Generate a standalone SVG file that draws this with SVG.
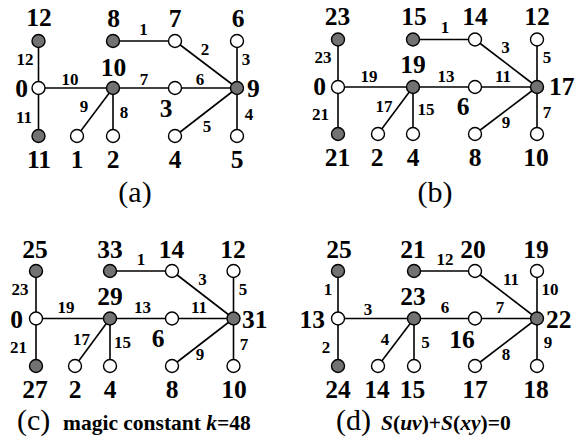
<svg xmlns="http://www.w3.org/2000/svg" width="586" height="447" viewBox="0 0 586 447">
<style>
.e line{stroke:#000;stroke-width:1.6}
.w{fill:#fff;stroke:#000;stroke-width:1.4}
.g{fill:#727272;stroke:#000;stroke-width:1.4}
text{font-family:"Liberation Serif","Times New Roman",serif;fill:#000}
.nl{font-size:25.5px;font-weight:bold;text-anchor:middle}
.el{font-size:17px;font-weight:bold;text-anchor:middle}
.cap{font-size:30px;text-anchor:middle}
.cs{font-size:21.5px;font-weight:bold}
.st{text-anchor:start}
.en{text-anchor:end}
</style>
<rect width="586" height="447" fill="#fff"/>

<!-- Panel (a) -->
<g id="a-connectors" class="e">
<line x1="38.5" y1="41" x2="38.5" y2="136"/>
<line x1="38.5" y1="88" x2="237" y2="88"/>
<line x1="113" y1="41" x2="175" y2="41"/>
<line x1="175" y1="41" x2="237" y2="88"/>
<line x1="237" y1="41" x2="237" y2="136"/>
<line x1="237" y1="88" x2="175" y2="136"/>
<line x1="113" y1="88" x2="113" y2="136"/>
<line x1="113" y1="88" x2="77" y2="136"/>
<text class="el" x="25" y="65">12</text>
<text class="el" x="24" y="123">11</text>
<text class="el" x="70" y="85">10</text>
<text class="el" x="144" y="85">7</text>
<text class="el" x="200" y="85">6</text>
<text class="el" x="143.5" y="35">1</text>
<text class="el" x="205" y="55">2</text>
<text class="el" x="246" y="65">3</text>
<text class="el" x="249" y="120">4</text>
<text class="el" x="207" y="132">5</text>
<text class="el" x="84" y="112">9</text>
<text class="el" x="124" y="118">8</text>
</g>
<g id="a-n12"><circle class="g" cx="38.5" cy="41" r="6.5"/><text class="nl" x="39" y="26">12</text></g>
<g id="a-n0"><circle class="w" cx="38.5" cy="88" r="6.5"/><text class="nl en" x="28" y="97">0</text></g>
<g id="a-n11"><circle class="g" cx="38.5" cy="136" r="6.5"/><text class="nl" x="39" y="168">11</text></g>
<g id="a-n10"><circle class="g" cx="113" cy="88" r="6.5"/><text class="nl" x="113.5" y="76">10</text></g>
<g id="a-n8"><circle class="g" cx="113" cy="41" r="6.5"/><text class="nl" x="113.5" y="27">8</text></g>
<g id="a-n7"><circle class="w" cx="175" cy="41" r="6.5"/><text class="nl" x="175" y="27">7</text></g>
<g id="a-n6"><circle class="w" cx="237" cy="41" r="6.5"/><text class="nl" x="238" y="27">6</text></g>
<g id="a-n9"><circle class="g" cx="237" cy="88" r="6.5"/><text class="nl st" x="247" y="97">9</text></g>
<g id="a-n3"><circle class="w" cx="175" cy="88" r="6.5"/><text class="nl" x="166" y="117">3</text></g>
<g id="a-n1"><circle class="w" cx="77" cy="136" r="6.5"/><text class="nl" x="77" y="168">1</text></g>
<g id="a-n2"><circle class="w" cx="113" cy="136" r="6.5"/><text class="nl" x="113" y="168">2</text></g>
<g id="a-n4"><circle class="w" cx="175" cy="136" r="6.5"/><text class="nl" x="175" y="168">4</text></g>
<g id="a-n5"><circle class="w" cx="237" cy="136" r="6.5"/><text class="nl" x="237" y="168">5</text></g>
<text class="cap" x="135" y="202">(a)</text>

<!-- Panel (b) -->
<g id="b-connectors" class="e">
<line x1="338" y1="39.5" x2="338" y2="134"/>
<line x1="338" y1="87" x2="537" y2="87"/>
<line x1="413" y1="39.5" x2="475" y2="39.5"/>
<line x1="475" y1="39.5" x2="537" y2="87"/>
<line x1="537" y1="39.5" x2="537" y2="134"/>
<line x1="537" y1="87" x2="475" y2="134"/>
<line x1="413" y1="87" x2="413" y2="134"/>
<line x1="413" y1="87" x2="378" y2="134"/>
<text class="el" x="323" y="63">23</text>
<text class="el" x="320.5" y="120">21</text>
<text class="el" x="369" y="82">19</text>
<text class="el" x="446" y="82">13</text>
<text class="el" x="503" y="82">11</text>
<text class="el" x="445" y="33">1</text>
<text class="el" x="505.5" y="53">3</text>
<text class="el" x="547" y="63">5</text>
<text class="el" x="384" y="112">17</text>
<text class="el" x="426" y="115">15</text>
<text class="el" x="506" y="128">9</text>
<text class="el" x="547" y="118">7</text>
</g>
<g id="b-n23"><circle class="g" cx="338" cy="39.5" r="6.5"/><text class="nl" x="337.5" y="25">23</text></g>
<g id="b-n0"><circle class="w" cx="338" cy="87" r="6.5"/><text class="nl en" x="326" y="95">0</text></g>
<g id="b-n21"><circle class="g" cx="338" cy="134" r="6.5"/><text class="nl" x="337.5" y="166">21</text></g>
<g id="b-n19"><circle class="g" cx="413" cy="87" r="6.5"/><text class="nl" x="413" y="73">19</text></g>
<g id="b-n15"><circle class="g" cx="413" cy="39.5" r="6.5"/><text class="nl" x="414" y="25">15</text></g>
<g id="b-n14"><circle class="w" cx="475" cy="39.5" r="6.5"/><text class="nl" x="475" y="25">14</text></g>
<g id="b-n12"><circle class="w" cx="537" cy="39.5" r="6.5"/><text class="nl" x="537" y="25">12</text></g>
<g id="b-n17"><circle class="g" cx="537" cy="87" r="6.5"/><text class="nl st" x="549" y="95">17</text></g>
<g id="b-n6"><circle class="w" cx="475" cy="87" r="6.5"/><text class="nl" x="463" y="115">6</text></g>
<g id="b-n2"><circle class="w" cx="378" cy="134" r="6.5"/><text class="nl" x="377" y="166">2</text></g>
<g id="b-n4"><circle class="w" cx="413" cy="134" r="6.5"/><text class="nl" x="413" y="166">4</text></g>
<g id="b-n8"><circle class="w" cx="475" cy="134" r="6.5"/><text class="nl" x="475" y="166">8</text></g>
<g id="b-n10"><circle class="w" cx="537" cy="134" r="6.5"/><text class="nl" x="536" y="166">10</text></g>
<text class="cap" x="435" y="202">(b)</text>

<!-- Panel (c) -->
<g id="c-connectors" class="e">
<line x1="36" y1="271" x2="36" y2="366"/>
<line x1="36" y1="318.5" x2="233.5" y2="318.5"/>
<line x1="110" y1="271" x2="172" y2="271"/>
<line x1="172" y1="271" x2="233.5" y2="318.5"/>
<line x1="233.5" y1="271" x2="233.5" y2="366"/>
<line x1="233.5" y1="318.5" x2="172" y2="366"/>
<line x1="110" y1="318.5" x2="110" y2="366"/>
<line x1="110" y1="318.5" x2="75" y2="366"/>
<text class="el" x="20" y="295">23</text>
<text class="el" x="18.5" y="353">21</text>
<text class="el" x="66" y="313">19</text>
<text class="el" x="142.5" y="313">13</text>
<text class="el" x="199" y="313">11</text>
<text class="el" x="141" y="265">1</text>
<text class="el" x="202.5" y="285">3</text>
<text class="el" x="243" y="295">5</text>
<text class="el" x="81.5" y="345">17</text>
<text class="el" x="122.5" y="348">15</text>
<text class="el" x="200" y="360">9</text>
<text class="el" x="244" y="350">7</text>
</g>
<g id="c-n25"><circle class="g" cx="36" cy="271" r="6.5"/><text class="nl" x="35" y="258">25</text></g>
<g id="c-n0"><circle class="w" cx="36" cy="318.5" r="6.5"/><text class="nl en" x="23" y="328">0</text></g>
<g id="c-n27"><circle class="g" cx="36" cy="366" r="6.5"/><text class="nl" x="35" y="398">27</text></g>
<g id="c-n29"><circle class="g" cx="110" cy="318.5" r="6.5"/><text class="nl" x="110" y="305">29</text></g>
<g id="c-n33"><circle class="g" cx="110" cy="271" r="6.5"/><text class="nl" x="110" y="258">33</text></g>
<g id="c-n14"><circle class="w" cx="172" cy="271" r="6.5"/><text class="nl" x="171.5" y="258">14</text></g>
<g id="c-n12"><circle class="w" cx="233.5" cy="271" r="6.5"/><text class="nl" x="233" y="258">12</text></g>
<g id="c-n31"><circle class="g" cx="233.5" cy="318.5" r="6.5"/><text class="nl st" x="242" y="328">31</text></g>
<g id="c-n6"><circle class="w" cx="172" cy="318.5" r="6.5"/><text class="nl" x="158" y="347">6</text></g>
<g id="c-n2"><circle class="w" cx="75" cy="366" r="6.5"/><text class="nl" x="75" y="398">2</text></g>
<g id="c-n4"><circle class="w" cx="110" cy="366" r="6.5"/><text class="nl" x="110" y="398">4</text></g>
<g id="c-n8"><circle class="w" cx="172" cy="366" r="6.5"/><text class="nl" x="172" y="398">8</text></g>
<g id="c-n10"><circle class="w" cx="233.5" cy="366" r="6.5"/><text class="nl" x="234" y="398">10</text></g>
<text class="cap st" x="17" y="430">(c)</text>
<text class="cs" x="63" y="430">magic constant <tspan font-style="italic">k</tspan>=48</text>

<!-- Panel (d) -->
<g id="d-connectors" class="e">
<line x1="338" y1="271" x2="338" y2="366"/>
<line x1="338" y1="318.5" x2="537" y2="318.5"/>
<line x1="414" y1="271" x2="475" y2="271"/>
<line x1="475" y1="271" x2="537" y2="318.5"/>
<line x1="537" y1="271" x2="537" y2="366"/>
<line x1="537" y1="318.5" x2="475" y2="366"/>
<line x1="414" y1="318.5" x2="414" y2="366"/>
<line x1="414" y1="318.5" x2="378" y2="366"/>
<text class="el" x="328" y="295">1</text>
<text class="el" x="326" y="353">2</text>
<text class="el" x="368" y="315">3</text>
<text class="el" x="445" y="313">6</text>
<text class="el" x="500" y="313">7</text>
<text class="el" x="445" y="265">12</text>
<text class="el" x="511" y="285">11</text>
<text class="el" x="550" y="295">10</text>
<text class="el" x="385" y="345">4</text>
<text class="el" x="425.5" y="348">5</text>
<text class="el" x="506" y="360">8</text>
<text class="el" x="548" y="348">9</text>
</g>
<g id="d-n25"><circle class="g" cx="338" cy="271" r="6.5"/><text class="nl" x="339" y="258">25</text></g>
<g id="d-n13"><circle class="w" cx="338" cy="318.5" r="6.5"/><text class="nl en" x="325" y="328">13</text></g>
<g id="d-n24"><circle class="g" cx="338" cy="366" r="6.5"/><text class="nl" x="338" y="398">24</text></g>
<g id="d-n23"><circle class="g" cx="414" cy="318.5" r="6.5"/><text class="nl" x="413" y="305">23</text></g>
<g id="d-n21"><circle class="g" cx="414" cy="271" r="6.5"/><text class="nl" x="413" y="258">21</text></g>
<g id="d-n20"><circle class="w" cx="475" cy="271" r="6.5"/><text class="nl" x="473" y="258">20</text></g>
<g id="d-n19"><circle class="w" cx="537" cy="271" r="6.5"/><text class="nl" x="536" y="258">19</text></g>
<g id="d-n22"><circle class="g" cx="537" cy="318.5" r="6.5"/><text class="nl st" x="546" y="328">22</text></g>
<g id="d-n16"><circle class="w" cx="475" cy="318.5" r="6.5"/><text class="nl" x="462" y="348">16</text></g>
<g id="d-n14"><circle class="w" cx="378" cy="366" r="6.5"/><text class="nl" x="377" y="398">14</text></g>
<g id="d-n15"><circle class="w" cx="414" cy="366" r="6.5"/><text class="nl" x="412.5" y="398">15</text></g>
<g id="d-n17"><circle class="w" cx="475" cy="366" r="6.5"/><text class="nl" x="475" y="398">17</text></g>
<g id="d-n18"><circle class="w" cx="537" cy="366" r="6.5"/><text class="nl" x="536" y="398">18</text></g>
<text class="cap st" x="336" y="430">(d)</text>
<text class="cs" x="381" y="430"><tspan font-style="italic">S</tspan>(<tspan font-style="italic">uv</tspan>)+<tspan font-style="italic">S</tspan>(<tspan font-style="italic">xy</tspan>)=0</text>
</svg>
